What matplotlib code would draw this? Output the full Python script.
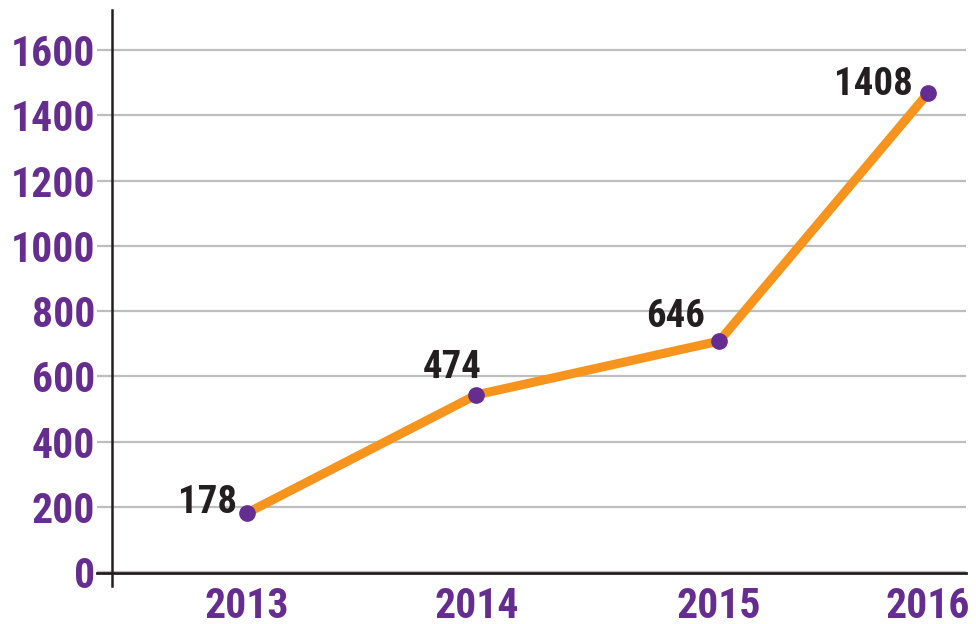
import matplotlib
matplotlib.use('Agg')
import matplotlib.pyplot as plt
from matplotlib.lines import Line2D

# data
years = ['2013', '2014', '2015', '2016']
x_pos = [0, 1.01, 2.08, 3]               # the source spaces the years unevenly
plotted = [181, 543, 708, 1468]          # where the dots actually sit
labels = ['178', '474', '646', '1408']   # what the chart prints next to them
y_ticks = [0, 200, 400, 600, 800, 1000, 1200, 1400, 1600]

purple = '#662d91'
orange = '#f7941d'
grey = '#bcbec0'
font = ['Roboto Condensed', 'DejaVu Sans']

fig = plt.figure(figsize=(9.76, 6.24), dpi=100)
ax = fig.add_axes([112/976, 1-572/624, (966-112)/976, (572-10)/624])

ax.set_xlim(-0.595, 3.167)
ax.set_ylim(0, 1723)

# grid
for v in y_ticks:
    ax.axhline(v, color=grey, lw=1.6, zorder=1)

ax.plot(x_pos, plotted, color=orange, lw=6.5, solid_capstyle='round',
        solid_joinstyle='round', zorder=3)
ax.plot(x_pos, plotted, 'o', color=purple, ms=11, zorder=4)

# value labels, offsets in points from each dot
offsets = [(-7, 0), (4, 12), (-10, 10), (-11, -1.4)]
for x, y, t, off in zip(x_pos, plotted, labels, offsets):
    ax.annotate(t, (x, y), xytext=off, textcoords='offset points',
                ha='right', va='baseline', fontsize=28, fontweight='bold',
                color='#231f20', family=font)

for s in ['top', 'right', 'bottom', 'left']:
    ax.spines[s].set_visible(False)

# axis lines drawn a bit past the plot area like the original
ax.add_line(Line2D([-15/854, 1], [-1/562, -1/562], transform=ax.transAxes,
                   color='#231f20', lw=2, clip_on=False, zorder=5))
ax.add_line(Line2D([0, 0], [-14/562, 1], transform=ax.transAxes, color='#231f20',
                   lw=1.8, clip_on=False, zorder=5))

ax.set_yticks(y_ticks)
ax.set_yticklabels([str(v) for v in y_ticks])
ax.tick_params(axis='y', length=10.8, width=1.6, color=grey, pad=1.5,
               labelsize=30, labelcolor=purple)
ax.set_xticks(x_pos)
ax.set_xticklabels(years)
ax.tick_params(axis='x', length=0, pad=10, labelsize=30, labelcolor=purple)
for lab in ax.get_xticklabels() + ax.get_yticklabels():
    lab.set_family(font)
    lab.set_fontweight('bold')

fig.savefig('out.png', dpi=100)
